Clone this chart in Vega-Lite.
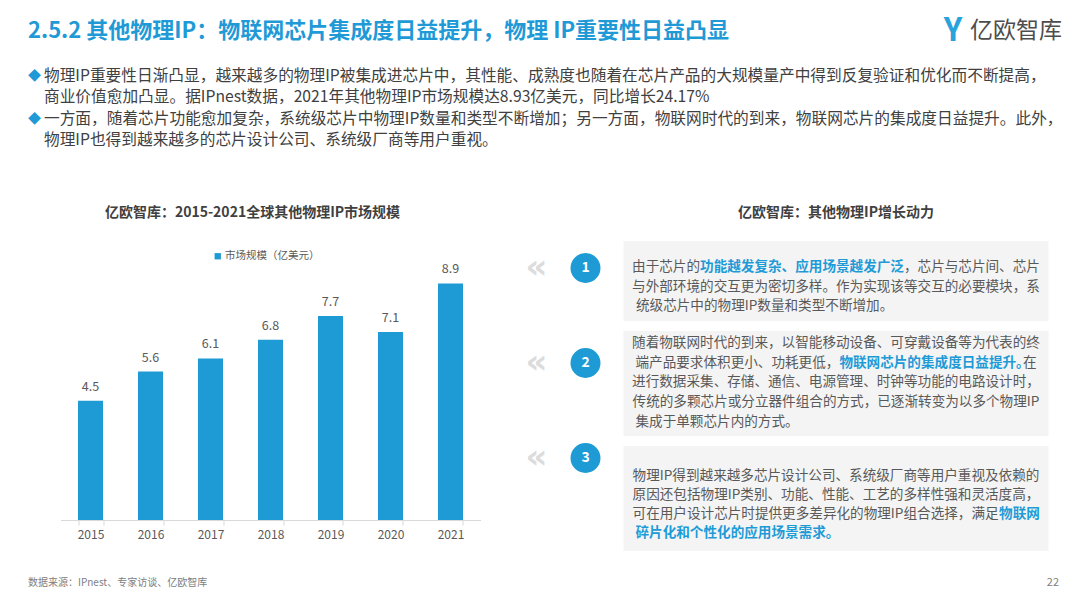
{
  "$schema": "https://vega.github.io/schema/vega-lite/v6.json",
  "background": "#ffffff",
  "padding": {"left": 27, "top": 0, "right": 0, "bottom": 0},
  "spacing": 0,
  "bounds": "full",
  "resolve": {"legend": {"color": "independent"}},
  "config": {
    "view": {"stroke": null},
    "font": "Noto Sans CJK SC",
    "text": {"font": "Noto Sans CJK SC"},
    "title": {"font": "Noto Sans CJK SC"},
    "axis": {"labelFont": "Noto Sans CJK SC"},
    "legend": {"labelFont": "Noto Sans CJK SC"}
  },
  "vconcat": [
    {
      "spacing": 0,
      "bounds": "flush",
      "hconcat": [
        {
          "width": 905,
          "height": 62,
          "data": {"values": [{"title": "2.5.2 其他物理IP：物联网芯片集成度日益提升，物理 IP重要性日益凸显"}]},
          "mark": {"type": "text", "align": "left", "baseline": "middle", "fontSize": 22, "fontWeight": "bold", "color": "#1f9ad6"},
          "encoding": {
            "x": {"datum": 0, "type": "quantitative", "scale": {"domain": [0, 1]}, "axis": null},
            "text": {"field": "title", "type": "nominal"}
          }
        },
        {
          "width": 40,
          "height": 62,
          "data": {"values": [{"icon": "Y"}]},
          "mark": {"type": "text", "align": "center", "baseline": "middle", "fontSize": 32, "fontWeight": "bold", "color": "#2aa3dc"},
          "encoding": {"text": {"field": "icon", "type": "nominal"}}
        },
        {
          "width": 86,
          "height": 62,
          "data": {"values": [{"logo": "亿欧智库"}]},
          "mark": {"type": "text", "align": "center", "baseline": "middle", "fontSize": 23, "color": "#4d4d4d"},
          "encoding": {"text": {"field": "logo", "type": "nominal"}}
        }
      ]
    },
    {
      "spacing": 3,
      "bounds": "flush",
      "hconcat": [
        {
          "width": 13,
          "height": 144,
          "data": {"values": [{"marks": "◆\n◆"}]},
          "mark": {"type": "text", "align": "center", "baseline": "middle", "fontSize": 13, "lineHeight": 42.6, "lineBreak": "\n", "color": "#1f9ad6", "dy": -58},
          "encoding": {"text": {"field": "marks", "type": "nominal"}}
        },
        {
          "width": 1015,
          "height": 144,
          "data": {"values": [
            {"text": "物理IP重要性日渐凸显，越来越多的物理IP被集成进芯片中，其性能、成熟度也随着在芯片产品的大规模量产中得到反复验证和优化而不断提高，\n商业价值愈加凸显。据IPnest数据，2021年其他物理IP市场规模达8.93亿美元，同比增长24.17%\n一方面，随着芯片功能愈加复杂，系统级芯片中物理IP数量和类型不断增加；另一方面，物联网时代的到来，物联网芯片的集成度日益提升。此外，\n物理IP也得到越来越多的芯片设计公司、系统级厂商等用户重视。"}
          ]},
          "mark": {"type": "text", "align": "left", "baseline": "middle", "fontSize": 15.7, "lineHeight": 21.3, "lineBreak": "\n", "color": "#404040", "dy": -58},
          "encoding": {
            "x": {"datum": 0, "type": "quantitative", "scale": {"domain": [0, 1]}, "axis": null},
            "text": {"field": "text", "type": "nominal"}
          }
        }
      ]
    },
    {
      "resolve": {"legend": {"color": "independent"}},
      "spacing": 31.5,
      "bounds": "flush",
      "hconcat": [
        {
          "width": 1,
          "height": 1,
          "data": {"values": []},
          "mark": "point",
          "encoding": {}
        },
        {
          "width": 420,
          "height": 279,
          "title": {"text": "亿欧智库：2015-2021全球其他物理IP市场规模", "fontSize": 14, "fontWeight": "bold", "color": "#404040", "anchor": "middle", "dx": -18, "offset": 21},
          "data": {"values": [
            {"year": "2015", "value": 4.5},
            {"year": "2016", "value": 5.6},
            {"year": "2017", "value": 6.1},
            {"year": "2018", "value": 6.8},
            {"year": "2019", "value": 7.7},
            {"year": "2020", "value": 7.1},
            {"year": "2021", "value": 8.93}
          ]},
          "encoding": {
            "x": {
              "field": "year",
              "type": "ordinal",
              "scale": {"paddingInner": 0.5833, "paddingOuter": 0.2917},
              "axis": {"title": null, "labelAngle": 0, "labelFontSize": 12, "labelColor": "#595959", "labelPadding": 4, "domainColor": "#d9d9d9", "tickColor": "#d9d9d9", "tickSize": 5, "tickBand": "extent", "grid": false}
            },
            "y": {"field": "value", "type": "quantitative", "scale": {"domain": [0, 10.53], "nice": false}, "axis": null}
          },
          "layer": [
            {
              "mark": {"type": "bar"},
              "encoding": {
                "color": {
                  "datum": "市场规模（亿美元）",
                  "scale": {"range": ["#1e9bd4"]},
                  "legend": {"orient": "none", "legendX": 152, "legendY": 10, "title": null, "symbolType": "square", "symbolSize": 40, "labelFontSize": 10.5, "labelColor": "#595959", "labelOffset": 2, "padding": 0}
                }
              }
            },
            {
              "mark": {"type": "text", "dy": -14, "fontSize": 12.5, "color": "#595959"},
              "encoding": {"text": {"field": "value", "type": "quantitative", "format": ".1f"}}
            }
          ]
        },
        {
          "spacing": 13.5,
          "bounds": "flush",
          "hconcat": [
            {
              "width": 98,
              "height": 310,
              "data": {"values": [{"item": 1}, {"item": 2}, {"item": 3}]},
              "encoding": {
                "y": {"field": "item", "type": "ordinal", "scale": {"type": "point", "padding": 0.6316, "align": 0.225}, "axis": null}
              },
              "layer": [
                {
                  "mark": {"type": "text", "text": "«", "font": "DejaVu Sans", "fontWeight": "bold", "fontSize": 34, "color": "#dcdcdc", "baseline": "middle"},
                  "encoding": {"x": {"datum": "chev", "type": "nominal", "scale": {"type": "point", "domain": ["chev", "num"], "padding": 0.5}, "axis": null}}
                },
                {
                  "mark": {"type": "circle", "size": 900, "opacity": 1, "color": "#1e9bd4"},
                  "encoding": {"x": {"datum": "num", "type": "nominal", "axis": null}}
                },
                {
                  "mark": {"type": "text", "fontSize": 14, "fontWeight": "bold", "color": "#ffffff", "baseline": "middle"},
                  "encoding": {
                    "x": {"datum": "num", "type": "nominal", "axis": null},
                    "text": {"field": "item", "type": "nominal"}
                  }
                }
              ]
            },
            {
              "title": {"text": "亿欧智库：其他物理IP增长动力", "fontSize": 14, "fontWeight": "bold", "color": "#404040", "anchor": "middle", "offset": 21},
              "spacing": 10,
              "bounds": "flush",
              "vconcat": [
                {
                  "width": 425,
                  "height": 80,
                  "view": {"fill": "#f4f4f4", "stroke": null},
                  "data": {"values": [{"box": 1,
                    "gray": "由于芯片的　　　　　　　　　　　　　　　，芯片与芯片间、芯片\n与外部环境的交互更为密切多样。作为实现该等交互的必要模块，系\n统级芯片中的物理IP数量和类型不断增加。　　　　　　　　　　　\u200b",
                    "blue": "\u200b　　　　　功能越发复杂、应用场景越发广泛　　　　　　　　　　\u200b"}]},
                  "layer": [
                    {
                      "mark": {"type": "text", "align": "center", "baseline": "middle", "fontSize": 13.6, "lineHeight": 19.5, "lineBreak": "\n", "color": "#595959", "dy": -14},
                      "encoding": {"text": {"field": "gray", "type": "nominal"}}
                    },
                    {
                      "mark": {"type": "text", "align": "center", "baseline": "middle", "fontSize": 13.6, "lineHeight": 19.5, "lineBreak": "\n", "color": "#1e9bd7", "fontWeight": "bold", "dy": -14},
                      "encoding": {"text": {"field": "blue", "type": "nominal"}}
                    }
                  ]
                },
                {
                  "width": 425,
                  "height": 105,
                  "view": {"fill": "#f4f4f4", "stroke": null},
                  "data": {"values": [{"box": 2,
                    "gray": "随着物联网时代的到来，以智能移动设备、可穿戴设备等为代表的终\n端产品要求体积更小、功耗更低，　　　　　　　　　　　　　　在\n进行数据采集、存储、通信、电源管理、时钟等功能的电路设计时，\n传统的多颗芯片或分立器件组合的方式，已逐渐转变为以多个物理IP\n集成于单颗芯片内的方式。　　　　　　　　　　　　　　　　　　\u200b",
                    "blue": "\u200b　　　　　　　　　　　　　　　物联网芯片的集成度日益提升。　\u200b"}]},
                  "layer": [
                    {
                      "mark": {"type": "text", "align": "center", "baseline": "middle", "fontSize": 13.6, "lineHeight": 19.7, "lineBreak": "\n", "color": "#595959", "dy": -40.5},
                      "encoding": {"text": {"field": "gray", "type": "nominal"}}
                    },
                    {
                      "mark": {"type": "text", "align": "center", "baseline": "middle", "fontSize": 13.6, "lineHeight": 19.7, "lineBreak": "\n", "color": "#1e9bd7", "fontWeight": "bold", "dy": -20.8},
                      "encoding": {"text": {"field": "blue", "type": "nominal"}}
                    }
                  ]
                },
                {
                  "width": 425,
                  "height": 105,
                  "view": {"fill": "#f4f4f4", "stroke": null},
                  "data": {"values": [{"box": 3,
                    "gray": "物理IP得到越来越多芯片设计公司、系统级厂商等用户重视及依赖的\n原因还包括物理IP类别、功能、性能、工艺的多样性强和灵活度高，\n可在用户设计芯片时提供更多差异化的物理IP组合选择，满足　　　\u200b",
                    "blue": "\u200b　　　　　　　　　　　　　　　　　　　　　　　　　　　物联网\n碎片化和个性化的应用场景需求。　　　　　　　　　　　　　　　\u200b"}]},
                  "layer": [
                    {
                      "mark": {"type": "text", "align": "center", "baseline": "middle", "fontSize": 13.6, "lineHeight": 19, "lineBreak": "\n", "color": "#595959", "dy": -23},
                      "encoding": {"text": {"field": "gray", "type": "nominal"}}
                    },
                    {
                      "mark": {"type": "text", "align": "center", "baseline": "middle", "fontSize": 13.6, "lineHeight": 19, "lineBreak": "\n", "color": "#1e9bd7", "fontWeight": "bold", "dy": 15},
                      "encoding": {"text": {"field": "blue", "type": "nominal"}}
                    }
                  ]
                }
              ]
            }
          ]
        }
      ]
    },
    {
      "width": 1031,
      "height": 52,
      "data": {"values": [{"source": "数据来源：IPnest、专家访谈、亿欧智库", "page": "22"}]},
      "layer": [
        {
          "mark": {"type": "text", "align": "left", "baseline": "middle", "fontSize": 10, "color": "#808080", "dy": 6},
          "encoding": {
            "x": {"datum": 0, "type": "quantitative", "scale": {"domain": [0, 1]}, "axis": null},
            "text": {"field": "source", "type": "nominal"}
          }
        },
        {
          "mark": {"type": "text", "align": "right", "baseline": "middle", "fontSize": 11, "color": "#808080", "dy": 6},
          "encoding": {
            "x": {"datum": 1, "type": "quantitative", "axis": null},
            "text": {"field": "page", "type": "nominal"}
          }
        }
      ]
    }
  ]
}
